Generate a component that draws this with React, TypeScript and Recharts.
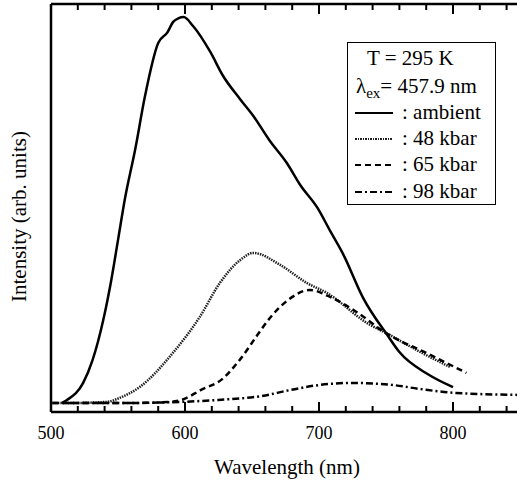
import React from "react";
import { LineChart, Line, XAxis, YAxis } from "recharts";

// Wavelength (nm) and intensity (arb. units)
const ambientWl = [508, 512, 524, 531, 539, 545, 550, 555, 563, 570, 580, 587, 591, 595, 599, 606, 619, 628, 641, 651, 663, 676, 686, 699, 708, 718, 733, 751, 760, 781, 800];
const ambientI = [0, 0.8, 5.2, 11.1, 21.5, 31.9, 42.2, 52.6, 66, 79.3, 93.3, 96.1, 98.7, 99.7, 100, 97.7, 90.9, 85.0, 78.8, 74.4, 68.1, 62.2, 56.5, 50.5, 44.8, 38.6, 27.2, 17.6, 13.2, 7.5, 4.1];

const kbar48Wl = [507, 514, 542, 551, 566, 591, 611, 626, 641, 651, 671, 691, 706, 736, 753, 773, 798];
const kbar48I = [0, 0, 0.3, 1.3, 4.1, 13.0, 22.3, 31.1, 37.0, 38.9, 35.8, 31.1, 28.5, 20.7, 17.6, 13.7, 9.3];

const kbar65Wl = [501, 560, 590, 599, 612, 627, 642, 654, 664, 677, 693, 710, 728, 750, 780, 810];
const kbar65I = [0, 0, 0.3, 1.0, 3.4, 6.0, 11.7, 17.6, 22.3, 26.7, 29.3, 27.2, 23.6, 18.1, 13.0, 7.8];

const kbar98Wl = [501, 552, 598, 625, 657, 679, 701, 724, 754, 776, 802, 849];
const kbar98I = [0, 0, 0.3, 0.8, 1.8, 3.4, 4.7, 5.2, 4.7, 3.6, 2.6, 2.1];

const xTicks = [500, 520, 540, 560, 580, 600, 620, 640, 660, 680, 700, 720, 740, 760, 780, 800, 820, 840];
const legendLabels = [": ambient", ": 48 kbar", ": 65 kbar", ": 98 kbar"];

const toPts = (wl: number[], iv: number[]) => wl.map((x, i) => ({ x, y: iv[i] }));
const ambient = toPts(ambientWl, ambientI);
const kbar48 = toPts(kbar48Wl, kbar48I);
const kbar65 = toPts(kbar65Wl, kbar65I);
const kbar98 = toPts(kbar98Wl, kbar98I);

const FONT = "'Liberation Serif', 'Times New Roman', serif";

const BottomTick = (props: any) => {
  const { x, y, payload } = props;
  const major = payload.value % 100 === 0;
  return (
    <g>
      <line x1={x} x2={x} y1={y} y2={y - (major ? 10 : 6)} stroke="#000" strokeWidth={2} />
      {major && (
        <text x={x} y={y + 27} textAnchor="middle" fontSize={18} fontFamily={FONT} fill="#000">
          {payload.value}
        </text>
      )}
    </g>
  );
};

const TopTick = (props: any) => {
  const { x, y, payload } = props;
  const major = payload.value % 100 === 0;
  return <line x1={x} x2={x} y1={y} y2={y + (major ? 10 : 6)} stroke="#000" strokeWidth={2} />;
};

const sampleStyles: React.CSSProperties[] = [
  { borderTop: "2.5px solid #000" },
  { backgroundImage: "repeating-linear-gradient(to right, #222 0 1.5px, transparent 1.5px 2.5px)", height: 2.5 },
  { backgroundImage: "repeating-linear-gradient(to right, #000 0 6px, transparent 6px 10px)", height: 2.5 },
  { backgroundImage: "repeating-linear-gradient(to right, #000 0 7px, transparent 7px 10px, #000 10px 12px, transparent 12px 15px)", height: 2.5 },
];

const txt: React.CSSProperties = {
  position: "absolute",
  fontFamily: FONT,
  fontSize: 21,
  lineHeight: "21px",
  color: "#000",
  whiteSpace: "nowrap",
};

export default function App() {
  return (
    <div style={{ position: "absolute", left: 0, top: 0, width: 517, height: 483, overflow: "hidden", background: "#fff" }}>
      <LineChart width={530} height={483} margin={{ top: 3, right: 10, bottom: 0, left: 0 }}>
        <XAxis
          xAxisId="bottom"
          dataKey="x"
          type="number"
          domain={[500, 850]}
          allowDataOverflow
          ticks={xTicks}
          interval={0}
          height={71}
          tickSize={0}
          tickMargin={0}
          tickLine={false}
          tick={<BottomTick />}
          axisLine={{ stroke: "#000", strokeWidth: 2.5 }}
        />
        <XAxis
          xAxisId="top"
          orientation="top"
          dataKey="x"
          type="number"
          domain={[500, 850]}
          allowDataOverflow
          ticks={xTicks}
          interval={0}
          height={1}
          tickSize={0}
          tickMargin={0}
          tickLine={false}
          tick={<TopTick />}
          axisLine={{ stroke: "#000", strokeWidth: 2.5 }}
        />
        <YAxis
          type="number"
          domain={[-2.33, 103.4]}
          allowDataOverflow
          width={51}
          tick={false}
          tickLine={false}
          axisLine={{ stroke: "#000", strokeWidth: 2.5 }}
        />
        <Line xAxisId="bottom" data={ambient} dataKey="y" type="monotone" stroke="#000" strokeWidth={2.5} dot={false} isAnimationActive={false} />
        <Line xAxisId="bottom" data={kbar48} dataKey="y" type="monotone" stroke="#222" strokeWidth={2.5} strokeDasharray="1.5 1" dot={false} isAnimationActive={false} />
        <Line xAxisId="bottom" data={kbar65} dataKey="y" type="monotone" stroke="#000" strokeWidth={2.5} strokeDasharray="6 4" dot={false} isAnimationActive={false} />
        <Line xAxisId="bottom" data={kbar98} dataKey="y" type="monotone" stroke="#000" strokeWidth={2.5} strokeDasharray="7 3 2 3" dot={false} isAnimationActive={false} />
      </LineChart>

      <div
        style={{
          ...txt,
          left: -131,
          top: 205.5,
          width: 300,
          height: 21,
          textAlign: "center",
          transform: "rotate(-90deg)",
        }}
      >
        Intensity (arb. units)
      </div>
      <div style={{ ...txt, left: 187, top: 457.4, width: 200, textAlign: "center" }}>Wavelength (nm)</div>

      <div
        style={{
          position: "absolute",
          left: 347.25,
          top: 42.25,
          width: 148.5,
          height: 162.5,
          border: "1.5px solid #000",
          boxSizing: "border-box",
          background: "#fff",
        }}
      />
      <div style={{ ...txt, left: 367, top: 48.4 }}>T = 295 K</div>
      <div style={{ ...txt, left: 356, top: 76.4 }}>
        λ<span style={{ fontSize: 15, position: "relative", top: 5 }}>ex</span>= 457.9 nm
      </div>
      {legendLabels.map((lab, i) => {
        const cy = [113, 139, 165, 192][i];
        return (
          <React.Fragment key={lab}>
            <div style={{ position: "absolute", left: 355, top: cy - 1.25, width: 38, height: 2.5, boxSizing: "border-box", ...sampleStyles[i] }} />
            <div style={{ ...txt, left: 402, top: cy + 7 - 17.6 }}>{lab}</div>
          </React.Fragment>
        );
      })}
    </div>
  );
}
